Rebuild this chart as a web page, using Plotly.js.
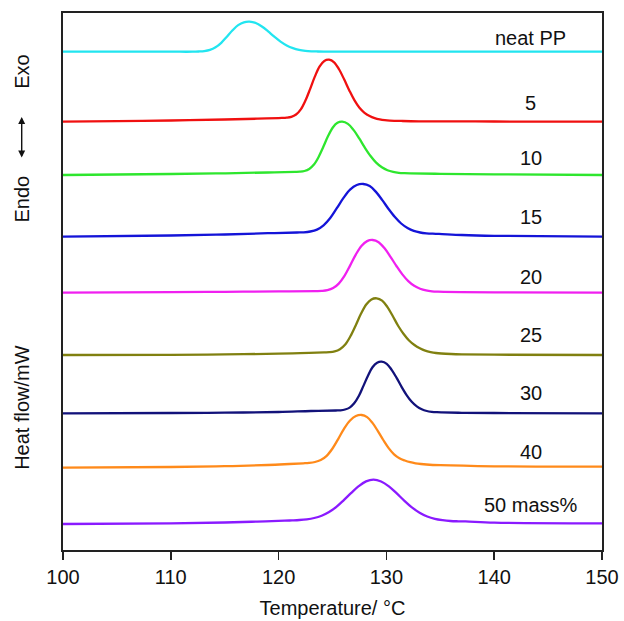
<!DOCTYPE html>
<html>
<head>
<meta charset="utf-8">
<script src="https://cdn.plot.ly/plotly-3.0.1.min.js"></script>
<style>html,body{margin:0;padding:0;background:#fff;}#chart{width:624px;height:621px;}</style>
</head>
<body>
<div id="chart"></div>
<script>
// Temperature (°C) and heat flow (arbitrary offset units)
const T_neat = [100,106,110,112.05,112.58,113.1,113.63,114.15,114.68,115.2,115.73,116.25,116.78,117.3,117.88,118.45,119.03,119.6,120.18,120.75,121.33,121.9,122.48,123.05,123.63,124.2,130,140,150];
const HF_neat = [49.83,49.83,49.83,49.83,49.85,49.89,50.01,50.27,50.72,51.33,51.97,52.49,52.77,52.83,52.70,52.35,51.86,51.33,50.84,50.46,50.19,50.02,49.92,49.87,49.85,49.84,49.83,49.83,49.83];

const T_5 = [100,105,110,115,118,120.31,120.74,121.18,121.62,122.06,122.49,122.93,123.37,123.81,124.24,124.68,125.15,125.62,126.09,126.56,127.03,127.5,127.97,128.44,128.91,129.38,129.85,130.32,131.5,133,140,150];
const HF_5 = [42.83,42.88,42.95,43.05,43.13,43.21,43.24,43.32,43.55,44.06,44.94,46.12,47.36,48.36,48.91,49.03,48.77,48.05,47.04,45.96,44.98,44.22,43.72,43.4,43.19,43.06,42.98,42.94,42.9,42.87,42.85,42.83];

const T_10 = [100,110,115,119,121.53,121.96,122.4,122.84,123.28,123.71,124.15,124.59,125.03,125.46,125.9,126.43,126.95,127.48,128.0,128.53,129.05,129.58,130.1,130.63,131.15,131.68,132.2,135,140,150];
const HF_10 = [37.5,37.6,37.67,37.75,37.81,37.83,37.9,38.1,38.54,39.3,40.32,41.39,42.25,42.72,42.83,42.61,42.01,41.16,40.24,39.40,38.74,38.27,37.97,37.81,37.72,37.68,37.66,37.62,37.57,37.5];

const T_15 = [100,110,115,119,121.71,122.33,122.94,123.56,124.17,124.79,125.4,126.02,126.63,127.25,127.86,128.45,129.03,129.62,130.2,130.79,131.37,131.96,132.54,133.13,133.71,134.3,134.88,137,140,150];
const HF_15 = [31.33,31.45,31.55,31.68,31.75,31.77,31.85,32.04,32.47,33.2,34.18,35.21,36.04,36.5,36.6,36.39,35.81,34.99,34.1,33.29,32.65,32.2,31.91,31.75,31.67,31.63,31.61,31.5,31.42,31.33];

const T_20 = [100,110,115,120,123.48,124.01,124.53,125.06,125.58,126.11,126.63,127.16,127.68,128.21,128.73,129.28,129.83,130.38,130.93,131.48,132.03,132.58,133.13,133.68,134.23,134.78,135.33,137,140,150];
const HF_20 = [25.73,25.78,25.82,25.86,25.89,25.91,25.98,26.19,26.64,27.41,28.44,29.54,30.41,30.89,31.0,30.78,30.17,29.32,28.4,27.56,26.89,26.42,26.13,25.96,25.87,25.83,25.81,25.78,25.76,25.73];

const T_25 = [100,110,115,120,122,124.23,124.71,125.2,125.69,126.18,126.66,127.15,127.64,128.13,128.61,129.1,129.6,130.1,130.6,131.1,131.6,132.1,132.6,133.1,133.6,134.1,134.6,135.1,136,137,140,150];
const HF_25 = [19.5,19.52,19.56,19.63,19.68,19.76,19.78,19.86,20.08,20.55,21.37,22.46,23.62,24.55,25.06,25.17,24.94,24.29,23.38,22.4,21.6,20.95,20.5,20.17,19.93,19.79,19.7,19.65,19.6,19.57,19.53,19.5];

const T_30 = [100,110,115,120,123,125.31,125.74,126.16,126.59,127.01,127.44,127.86,128.29,128.71,129.14,129.56,130.03,130.49,130.96,131.42,131.89,132.35,132.82,133.28,133.75,134.21,134.68,135.14,137,140,150];
const HF_30 = [13.67,13.7,13.73,13.8,13.9,13.95,13.97,14.05,14.24,14.67,15.4,16.39,17.43,18.27,18.73,18.83,18.62,18.02,17.19,16.29,15.47,14.82,14.36,14.07,13.9,13.82,13.78,13.76,13.72,13.7,13.67];

const T_40 = [100,110,115,119,121,122.29,122.83,123.37,123.91,124.46,125.0,125.54,126.08,126.63,127.17,127.71,128.21,128.71,129.21,129.71,130.21,130.71,131.21,131.71,132.21,132.71,133.21,133.71,135,140,150];
const HF_40 = [8.23,8.3,8.38,8.5,8.6,8.67,8.71,8.8,9.0,9.42,10.15,11.12,12.14,12.95,13.4,13.5,13.29,12.71,11.89,11.0,10.19,9.57,9.18,8.95,8.78,8.67,8.6,8.55,8.48,8.37,8.33];

const T_50 = [100,110,115,118,120.55,121.24,121.93,122.61,123.3,123.99,124.68,125.36,126.05,126.74,127.43,128.11,128.8,129.51,130.23,130.94,131.65,132.36,133.08,133.79,134.5,135.21,135.93,136.64,137.35,140,150];
const HF_50 = [2.6,2.67,2.75,2.84,2.93,2.96,3.0,3.07,3.2,3.43,3.8,4.31,4.99,5.71,6.38,6.86,7.03,6.85,6.37,5.68,4.94,4.26,3.73,3.35,3.11,2.98,2.9,2.87,2.86,2.74,2.67];

const seriesNames = ['neat PP','5','10','15','20','25','30','40','50 mass%'];
const xTicks = [100,110,120,130,140,150];

// styling (kept separate from the data)
const colors = ['#22e5f0','#f01010','#2ee62e','#1414d8','#f020f0','#808010','#12127a','#ff8a1a','#8a1aff'];
const labelY = [51.2,44.67,39.17,33.33,27.33,21.5,15.67,9.83,4.5];
const labelX = 143.4;

const xs = [T_neat,T_5,T_10,T_15,T_20,T_25,T_30,T_40,T_50];
const ys = [HF_neat,HF_5,HF_10,HF_15,HF_20,HF_25,HF_30,HF_40,HF_50];

const traces = xs.map((x,i)=>({
  x:x, y:ys[i], type:'scatter', mode:'lines', name:seriesNames[i],
  line:{color:colors[i], width:2.3, shape:'spline', smoothing:1},
  hoverinfo:'skip'
}));

const FONT = 'Liberation Sans, Arial, Helvetica, sans-serif';
const annotations = seriesNames.map((s,i)=>({
  x:labelX, y:labelY[i], xref:'x', yref:'y', text:s, showarrow:false,
  xanchor:'center', yanchor:'middle', font:{family:FONT, size:20, color:'#111'}
}));
// left-side vertical labels
annotations.push({xref:'paper', yref:'paper', x:-0.0766, y:0.266, text:'Heat flow/mW', textangle:-90,
  showarrow:false, xanchor:'center', yanchor:'middle', font:{family:FONT, size:20, color:'#111'}});
annotations.push({xref:'paper', yref:'paper', x:-0.0766, y:0.654, text:'Endo', textangle:-90,
  showarrow:false, xanchor:'center', yanchor:'middle', font:{family:FONT, size:20, color:'#111'}});
annotations.push({xref:'paper', yref:'paper', x:-0.0766, y:0.890, text:'Exo', textangle:-90,
  showarrow:false, xanchor:'center', yanchor:'middle', font:{family:FONT, size:20, color:'#111'}});
annotations.push({xref:'paper', yref:'paper', x:-0.0766, y:0.731, axref:'pixel', ayref:'pixel', ax:0, ay:-42,
  text:'', showarrow:true, arrowside:'end+start', arrowhead:2, startarrowhead:2, arrowsize:1, startarrowsize:1,
  arrowwidth:1.4, arrowcolor:'#111'});

const layout = {
  width:624, height:621,
  margin:{l:63, r:22, t:13, b:71},
  paper_bgcolor:'#fff', plot_bgcolor:'#fff',
  showlegend:false,
  xaxis:{range:[100,150], tickvals:xTicks, ticktext:xTicks.map(String), ticks:'outside', ticklen:8, tickwidth:1.5,
    tickcolor:'#222', showline:true, linecolor:'#222', linewidth:1.6, mirror:true, showgrid:false, zeroline:false,
    tickfont:{family:FONT, size:20, color:'#111'},
    title:{text:'Temperature/ °C', font:{family:FONT, size:20, color:'#111'}, standoff:14}},
  yaxis:{range:[0,53.7], showticklabels:false, ticks:'', showline:true, linecolor:'#222', linewidth:1.6,
    mirror:true, showgrid:false, zeroline:false},
  annotations:annotations
};
Plotly.newPlot('chart', traces, layout, {staticPlot:true, displayModeBar:false});
</script>
</body>
</html>
